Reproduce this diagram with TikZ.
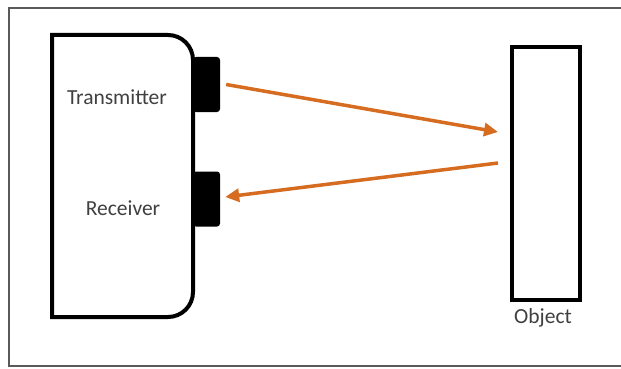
\documentclass[tikz,border=0pt]{standalone}
\usepackage{fontspec}
\setmainfont{Carlito}
\usetikzlibrary{arrows.meta}
\definecolor{ray}{RGB}{214,108,32}
\definecolor{txt}{RGB}{64,64,64}
\definecolor{frame}{RGB}{90,90,90}
\tikzset{
  label/.style={text=txt, font=\fontsize{21.5}{24}\selectfont, inner sep=0pt},
  port/.style={fill=black, inner sep=0pt, minimum width=27pt, minimum height=55pt, rounded corners=3pt},
  rayarrow/.style={draw=ray, line width=3.5pt, -{Triangle[length=14pt,width=13pt]}},
}
\begin{document}
\begin{tikzpicture}[x=1pt,y=-1pt]
\useasboundingbox (0,0) rectangle (621,369);
\fill[white] (0,0) rectangle (621,369);
% frame
\draw[frame, line width=2pt] (621,8) -- (9,8) -- (9,366) -- (621,366);
% device body (r = 25)
\draw[line width=4pt, line join=miter] (52,317) -- (52,35) -- (168,35)
  .. controls (181.8,35) and (193,46.2) .. (193,60) -- (193,292)
  .. controls (193,305.8) and (181.8,317) .. (168,317) -- cycle;
\node[port] (tx) at (206.5,84.5) {};
\node[port] (rx) at (206.5,199) {};
\node[label] (txl) at (117,97) {Transmitter};
\node[label] (rxl) at (123,208) {Receiver};
% object
\node[draw, line width=4pt, minimum width=68pt, minimum height=253pt, inner sep=0pt] (obj) at (546,173.5) {};
\node[label] (objl) at (543,318) {Object};
% rays
\coordinate (hit1) at (498,132);
\coordinate (hit2) at (498,163);
\draw[rayarrow] ([xshift=6pt]tx.east) -- (hit1);
\draw[rayarrow] (hit2) -- ([xshift=5pt,yshift=2pt]rx.east);
\end{tikzpicture}
\end{document}
